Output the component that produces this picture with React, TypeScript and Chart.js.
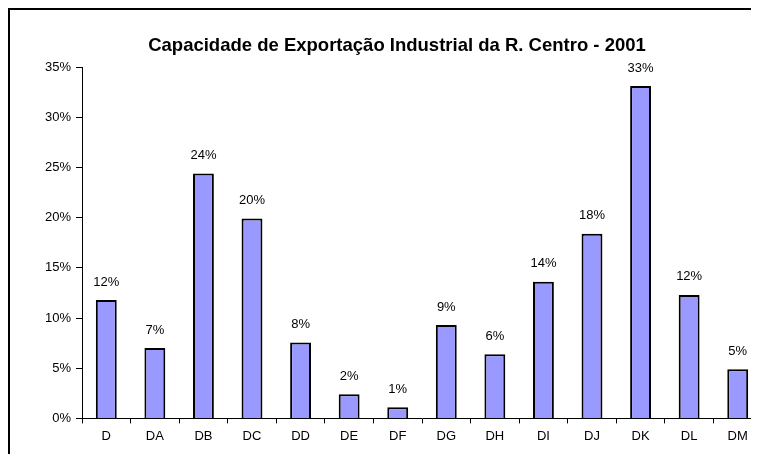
import React, { useEffect, useRef } from "react";
import { Chart, registerables } from "chart.js";

Chart.register(...registerables);

const categories = ["D", "DA", "DB", "DC", "DD", "DE", "DF", "DG", "DH", "DI", "DJ", "DK", "DL", "DM"];
const values = [11.8, 7.0, 24.4, 19.9, 7.55, 2.4, 1.1, 9.3, 6.4, 13.6, 18.4, 33.1, 12.3, 4.9];
const yTicks = [0, 5, 10, 15, 20, 25, 30, 35];
const title = "Capacidade de Exportação Industrial da R. Centro - 2001";

const FONT = "'Liberation Sans', Arial, sans-serif";

const valueLabels = {
  id: "valueLabels",
  afterDatasetsDraw(chart: any) {
    const ctx = chart.ctx;
    const meta = chart.getDatasetMeta(0);
    ctx.save();
    ctx.font = `13px ${FONT}`;
    ctx.fillStyle = "#000";
    ctx.textAlign = "center";
    ctx.textBaseline = "middle";
    meta.data.forEach((bar: any, i: number) => {
      const v = chart.data.datasets[0].data[i] as number;
      ctx.fillText(Math.round(v) + "%", bar.x, bar.y - 18);
    });
    ctx.restore();
  },
};

const titlePlugin = {
  id: "customTitle",
  afterDraw(chart: any) {
    const ctx = chart.ctx;
    ctx.save();
    ctx.font = `bold 18.5px ${FONT}`;
    ctx.fillStyle = "#000";
    ctx.textAlign = "center";
    ctx.textBaseline = "alphabetic";
    ctx.fillText(title, 387, 41);
    ctx.restore();
  },
};

export default function App() {
  const ref = useRef<HTMLCanvasElement | null>(null);
  useEffect(() => {
    if (!ref.current) return;
    Chart.defaults.font.family = FONT;
    Chart.defaults.color = "#000";
    const chart = new Chart(ref.current, {
      type: "bar",
      data: {
        labels: categories,
        datasets: [
          {
            data: values,
            backgroundColor: "#9999FF",
            borderColor: "#000",
            borderWidth: 2,
            barPercentage: 0.43,
            categoryPercentage: 1,
          },
        ],
      },
      options: {
        animation: false,
        responsive: false,
        maintainAspectRatio: false,
        layout: { padding: { left: 0, right: 30, top: 57, bottom: 5 } },
        plugins: {
          legend: { display: false },
          tooltip: { enabled: false },
          title: { display: false },
        },
        scales: {
          x: {
            grid: {
              offset: true,
              drawOnChartArea: false,
              drawTicks: true,
              tickLength: 5,
              color: "#000",
            },
            border: { color: "#000", width: 1 },
            ticks: { font: { size: 13 }, color: "#000", padding: 5, maxRotation: 0 },
          },
          y: {
            min: 0,
            max: 35,
            afterBuildTicks(scale: any) {
              scale.ticks = yTicks.map((v) => ({ value: v }));
            },
            afterFit(scale: any) {
              scale.width = 72;
            },
            grid: {
              drawOnChartArea: false,
              drawTicks: true,
              tickLength: 6,
              color: "#000",
            },
            border: { color: "#000", width: 1 },
            ticks: {
              font: { size: 13 },
              color: "#000",
              padding: 5,
              callback: (v: any) => v + "%",
            },
          },
        },
      },
      plugins: [valueLabels, titlePlugin],
    });
    return () => chart.destroy();
  }, []);

  return (
    <div
      style={{
        width: 751,
        height: 446,
        overflow: "hidden",
        borderLeft: "2px solid #000",
        borderTop: "2px solid #000",
        boxSizing: "border-box",
        background: "#fff",
      }}
    >
      <canvas ref={ref} width={782} height={444} style={{ display: "block" }} />
    </div>
  );
}
